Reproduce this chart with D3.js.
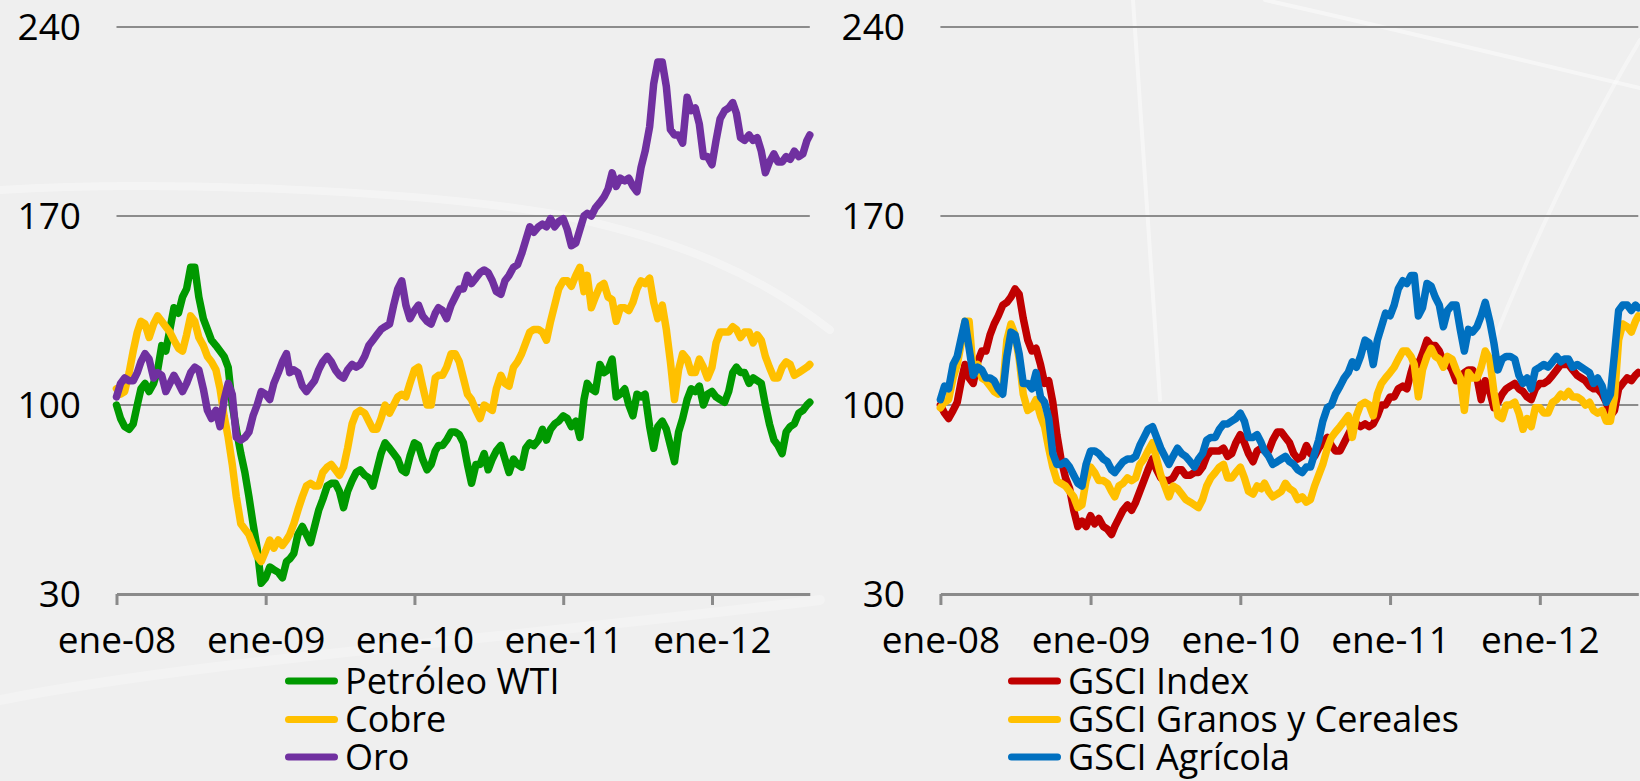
<!DOCTYPE html>
<html><head><meta charset="utf-8">
<script src="https://cdn.jsdelivr.net/npm/d3@7"></script>
<style>
body{margin:0;background:#efefef;}
svg{display:block;font-family:"Open Sans",sans-serif;}
</style>
</head><body>
<svg id="c" width="1640" height="781"></svg>
<script>
// ---------- data ----------
const dates = [
"2008-01-01","2008-01-11","2008-01-21","2008-02-01","2008-02-11","2008-02-21","2008-03-01","2008-03-11","2008-03-21","2008-04-01","2008-04-11","2008-04-21","2008-05-01","2008-05-11","2008-05-21","2008-06-01","2008-06-11","2008-06-21","2008-07-01","2008-07-11","2008-07-21","2008-08-01","2008-08-11","2008-08-21","2008-09-01","2008-09-11","2008-09-21","2008-10-01","2008-10-11","2008-10-21","2008-11-01","2008-11-11","2008-11-21","2008-12-01","2008-12-11","2008-12-21",
"2009-01-01","2009-01-11","2009-01-21","2009-02-01","2009-02-11","2009-02-21","2009-03-01","2009-03-11","2009-03-21","2009-04-01","2009-04-11","2009-04-21","2009-05-01","2009-05-11","2009-05-21","2009-06-01","2009-06-11","2009-06-21","2009-07-01","2009-07-11","2009-07-21","2009-08-01","2009-08-11","2009-08-21","2009-09-01","2009-09-11","2009-09-21","2009-10-01","2009-10-11","2009-10-21","2009-11-01","2009-11-11","2009-11-21","2009-12-01","2009-12-11","2009-12-21",
"2010-01-01","2010-01-11","2010-01-21","2010-02-01","2010-02-11","2010-02-21","2010-03-01","2010-03-11","2010-03-21","2010-04-01","2010-04-11","2010-04-21","2010-05-01","2010-05-11","2010-05-21","2010-06-01","2010-06-11","2010-06-21","2010-07-01","2010-07-11","2010-07-21","2010-08-01","2010-08-11","2010-08-21","2010-09-01","2010-09-11","2010-09-21","2010-10-01","2010-10-11","2010-10-21","2010-11-01","2010-11-11","2010-11-21","2010-12-01","2010-12-11","2010-12-21",
"2011-01-01","2011-01-11","2011-01-21","2011-02-01","2011-02-11","2011-02-21","2011-03-01","2011-03-11","2011-03-21","2011-04-01","2011-04-11","2011-04-21","2011-05-01","2011-05-11","2011-05-21","2011-06-01","2011-06-11","2011-06-21","2011-07-01","2011-07-11","2011-07-21","2011-08-01","2011-08-11","2011-08-21","2011-09-01","2011-09-11","2011-09-21","2011-10-01","2011-10-11","2011-10-21","2011-11-01","2011-11-11","2011-11-21","2011-12-01","2011-12-11","2011-12-21",
"2012-01-01","2012-01-11","2012-01-21","2012-02-01","2012-02-11","2012-02-21","2012-03-01","2012-03-11","2012-03-21","2012-04-01","2012-04-11","2012-04-21","2012-05-01","2012-05-11","2012-05-21","2012-06-01","2012-06-11","2012-06-21","2012-07-01","2012-07-11","2012-07-21","2012-08-01","2012-08-11","2012-08-21","2012-08-28"
];

// left panel
const wti = [
100,95,92, 91,93,100, 106,108,105, 108,113,122, 120,128,136, 134,140,143, 151,151,140, 132,128,124, 122,120,118, 114,100,91, 82,75,66, 56,47,34,
36,40,39, 38,36,42, 43,45,52, 55,52,49, 55,61,65, 70,71,71, 68,62,68, 72,75,76, 74,73,70, 76,82,86, 84,82,80, 76,75,81,
86,85,80, 76,78,83, 85,85,87, 90,90,89, 86,78,71, 78,78,82, 76,80,83, 85,80,75, 80,78,77, 84,86,85, 87,91,87, 91,93,94,
96,95,92, 94,88,102, 108,106,105, 115,112,113, 117,103,104, 106,100,96, 104,103,104, 92,84,92, 94,91,85, 79,90,95, 102,106,105, 107,100,104,
105,103,102, 101,105,112, 114,112,112, 108,110,109, 108,100,93, 87,85,82, 90,92,93, 97,98,100, 101
];
const cobre = [
106,104,105, 112,120,127, 131,130,125, 130,133,131, 129,127,124, 121,120,126, 133,131,125, 122,118,116, 113,106,96, 88,78,66, 56,54,52, 48,44,42,
46,50,47, 50,48,50, 52,56,61, 66,70,71, 70,70,75, 77,78,76, 74,77,84, 93,97,98, 97,94,91, 91,95,100, 97,100,103, 104,103,108,
113,114,107, 100,100,110, 111,111,114, 119,119,116, 110,104,102, 98,95,100, 99,98,106, 111,108,107, 114,116,119, 123,127,128, 128,127,124, 131,137,143,
146,146,144, 148,151,142, 148,136,140, 144,145,140, 139,131,136, 136,135,138, 143,146,145, 147,138,132, 137,128,116, 102,113,119, 117,112,112, 117,114,110,
114,123,127, 127,127,129, 128,125,127, 127,123,126, 124,118,114, 110,110,114, 116,115,111, 112,113,114, 115
];
const oro = [
103,108,110, 109,109,112, 116,119,117, 110,112,111, 105,108,111, 108,105,108, 112,114,113, 106,98,95, 98,92,102, 108,104,88, 87,88,90, 96,100,105,
104,102,108, 112,116,119, 112,113,112, 107,105,107, 109,113,116, 118,116,113, 111,110,113, 115,114,115, 118,122,124, 126,128,129, 130,137,143, 146,137,132,
135,137,133, 131,130,134, 136,135,132, 137,140,143, 143,148,145, 147,149,150, 149,146,142, 141,146,148, 151,152,156, 161,166,164, 166,167,166, 169,166,168,
169,165,159, 160,165,170, 171,170,173, 175,177,180, 186,181,184, 183,184,181, 179,188,194, 203,219,227, 227,218,202, 200,200,197, 214,209,210, 204,192,192,
189,198,206, 209,210,212, 208,199,198, 200,198,199, 194,186,190, 193,190,190, 192,191,194, 192,193,198, 200
];

// right panel
const gsciIndex = [
100,97,95, 98,101,109, 115,110,108, 116,120,120, 126,130,133, 137,138,140, 143,141,132, 124,120,121, 115,108,109, 101,89,80, 73,69,61, 55,57,55,
59,56,58, 55,54,52, 55,58,61, 63,61,64, 68,72,76, 80,76,73, 72,72,73, 76,76,74, 74,75,75, 77,81,83, 83,83,84, 81,82,86,
89,86,82, 79,83,84, 83,83,87, 90,90,88, 86,82,80, 81,85,82, 81,84,86, 88,85,83, 83,86,89, 92,93,92, 93,92,93, 96,100,100,
103,103,106, 107,106,112, 116,115,119, 124,122,122, 120,116,116, 113,109,110, 112,113,113, 110,102,109, 105,99,101, 104,106,107, 108,106,105, 103,102,106,
108,108,109, 111,113,115, 115,115,113, 111,110,109, 107,106,106, 104,101,96, 98,106,108, 110,109,111, 112
];
const gsciGranos = [
99,101,102, 110,115,123, 131,131,112, 115,110,109, 107,105,104, 106,124,130, 126,117,104, 98,99,102, 96,92,84, 77,72,71, 70,68,66, 62,63,72,
77,75,72, 72,71,68, 66,70,71, 73,72,73, 78,80,83, 86,80,74, 70,66,70, 69,67,65, 64,63,62, 65,70,73, 75,77,78, 73,73,75,
77,73,68, 67,70,69, 71,68,66, 67,68,71, 69,68,65, 66,64,65, 70,74,78, 84,88,90, 92,94,96, 88,96,100, 101,100,96, 104,108,110,
112,114,117, 120,120,118, 115,103,113, 118,121,118, 117,114,118, 117,113,110, 98,112,110, 110,114,120, 117,105,96, 95,100,100, 101,97,91, 95,92,99,
99,97,97, 101,102,104, 103,105,103, 103,102,100, 101,98,97, 98,94,94, 103,124,130, 129,127,131, 133
];
const gsciAgricola = [
102,107,106, 115,118,125, 131,121,111, 114,113,110, 110,109,106, 104,118,127, 126,119,108, 108,106,112, 103,101,95, 82,78,78, 79,77,74, 71,70,78,
83,83,82, 80,79,76, 75,77,79, 80,80,81, 85,88,91, 92,88,84, 81,78,81, 84,82,81, 79,77,80, 82,87,88, 88,91,93, 93,94,95,
97,94,88, 88,89,86, 83,81,78, 79,80,81, 79,78,76, 75,77,77, 82,87,94, 99,100,104, 107,110,112, 116,114,118, 124,123,115, 124,129,134,
133,137,143, 146,145,148, 148,133,136, 145,144,140, 137,129,135, 137,137,128, 120,128,127, 129,133,138, 131,123,113, 117,118,118, 117,111,108, 110,106,113,
114,115,114, 116,118,116, 117,117,114, 115,114,113, 112,108,110, 107,101,104, 119,135,137, 137,135,137, 136
];

const yTickValues = [30, 100, 170, 240];
const xTickDates = ["2008-01-01","2009-01-01","2010-01-01","2011-01-01","2012-01-01"];
const xTickLabels = ["ene-08","ene-09","ene-10","ene-11","ene-12"];
const leftNames = ["Petróleo WTI", "Cobre", "Oro"];
const rightNames = ["GSCI Index", "GSCI Granos y Cereales", "GSCI Agrícola"];
const leftColors = ["#009900", "#FFC000", "#7030A0"];
const rightColors = ["#C00000", "#FFC000", "#0070C0"];

// ---------- drawing ----------
const parse = d3.timeParse("%Y-%m-%d");
const svg = d3.select("#c");

// background with faint decorative strokes
svg.append("rect").attr("width",1640).attr("height",781).attr("fill","#efefef");
const deco = svg.append("g").attr("fill","none").attr("stroke","#ffffff").attr("stroke-linecap","round");
deco.append("path").attr("d","M0,190 C160,180 420,190 560,215 C680,240 760,275 830,330").attr("stroke-width",8).attr("opacity",0.35);
deco.append("path").attr("d","M1133,0 C1140,120 1150,240 1160,400").attr("stroke-width",4).attr("opacity",0.45);
deco.append("path").attr("d","M1265,0 C1400,30 1520,60 1640,88").attr("stroke-width",4).attr("opacity",0.45);
deco.append("path").attr("d","M1640,40 C1580,140 1530,250 1490,350").attr("stroke-width",4).attr("opacity",0.4);
deco.append("path").attr("d","M0,700 C200,660 500,640 820,600").attr("stroke-width",10).attr("opacity",0.25);

const domain = [parse("2008-01-01"), parse("2012-08-28")];
const y = d3.scaleLinear().domain([30, 240]).range([594, 27]);

function panel(xRange, labelRight, series, names, colors, legendX) {
  const x = d3.scaleTime().domain(domain).range(xRange);
  const g = svg.append("g");
  // grid
  g.selectAll("line.grid").data(yTickValues.filter(v => v > 30)).join("line")
    .attr("x1", xRange[0]).attr("x2", xRange[1])
    .attr("y1", d => y(d)).attr("y2", d => y(d))
    .attr("stroke", "#8c8c8c").attr("stroke-width", 2);
  // y labels
  g.selectAll("text.yl").data(yTickValues).join("text")
    .attr("x", labelRight).attr("y", d => y(d) + 13)
    .attr("text-anchor", "end").attr("font-size", 37).attr("fill", "#000")
    .text(d => d);
  // x axis
  const axis = d3.axisBottom(x)
    .tickValues(xTickDates.map(parse))
    .tickFormat((d, i) => xTickLabels[i])
    .tickSize(11).tickSizeOuter(0);
  const ag = g.append("g").attr("transform", "translate(0,594)").call(axis);
  ag.select(".domain").attr("stroke", "#8a8a8a").attr("stroke-width", 3);
  ag.selectAll(".tick line").attr("stroke", "#8a8a8a").attr("stroke-width", 3);
  ag.selectAll(".tick text").attr("y", 59).attr("dy", 0)
    .attr("font-size", 37).attr("fill", "#000").attr("font-family", "'Open Sans',sans-serif");
  // lines
  const line = d3.line().x(d => x(d.date)).y(d => y(d.v));
  series.forEach((vals, k) => {
    const pts = vals.map((v, i) => ({date: parse(dates[i]), v}));
    g.append("path").datum(pts).attr("d", line)
      .attr("fill", "none").attr("stroke", colors[k]).attr("stroke-width", 7.5)
      .attr("stroke-linejoin", "round").attr("stroke-linecap", "round");
  });
  // legend
  const rows = [681, 719.5, 757];
  names.forEach((n, k) => {
    g.append("line").attr("x1", legendX + 3.5).attr("x2", legendX + 49.5)
      .attr("y1", rows[k]).attr("y2", rows[k])
      .attr("stroke", colors[k]).attr("stroke-width", 7).attr("stroke-linecap", "round");
    g.append("text").attr("x", legendX + 60).attr("y", rows[k] + 12.5)
      .attr("font-size", 36).attr("fill", "#000").text(n);
  });
}

panel([116.5, 809.8], 81, [wti, cobre, oro], leftNames, leftColors, 285);
panel([940.4, 1638.3], 905, [gsciIndex, gsciGranos, gsciAgricola], rightNames, rightColors, 1008);
</script>
</body></html>
